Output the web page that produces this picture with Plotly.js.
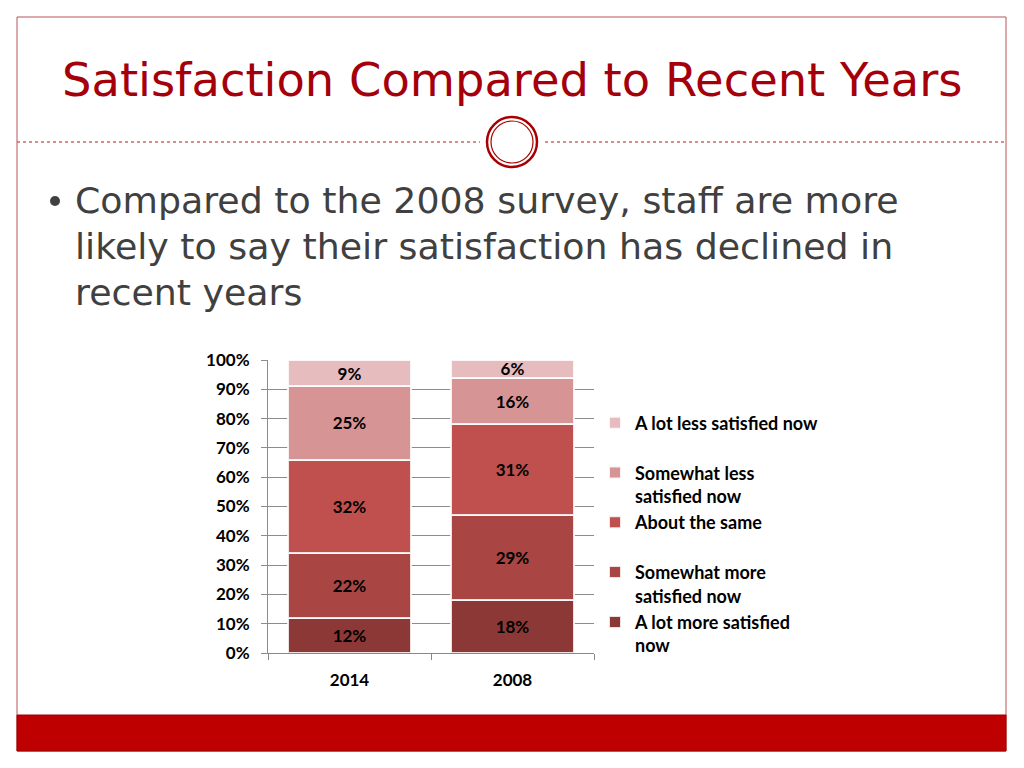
<!DOCTYPE html>
<html>
<head>
<meta charset="utf-8">
<script src="https://cdn.plot.ly/plotly-3.0.1.min.js"></script>
<style>
  html, body { margin: 0; padding: 0; background: #ffffff; }
  #chart { width: 1024px; height: 768px; }
</style>
</head>
<body>
<div id="chart"></div>
<script>
// ---- Data ----
const categories = ['2014', '2008'];
const seriesNames = [
  'A lot more satisfied<br>now',
  'Somewhat more<br>satisfied now',
  'About the same<br>&nbsp;',
  'Somewhat less<br>satisfied now',
  'A lot less satisfied now<br>&nbsp;'
];
const aLotMore      = [12, 18];
const somewhatMore  = [22, 29];
const aboutSame     = [32, 31];
const somewhatLess  = [25, 16];
const aLotLess      = [9, 6];
const seriesValues = [aLotMore, somewhatMore, aboutSame, somewhatLess, aLotLess];
const seriesColors = ['#8C3836', '#A94543', '#C0504D', '#D69594', '#E6BCBF'];
const yTickVals = [0, 10, 20, 30, 40, 50, 60, 70, 80, 90, 100];

const titleText = 'Satisfaction Compared to Recent Years';
const bulletLines = [
  'Compared to the 2008 survey, staff are more',
  'likely to say their satisfaction has declined in',
  'recent years'
];

// ---- Layout helpers (pixel -> paper) ----
const L = 268, R = 594, T = 360, B = 653;
const W = R - L, H = B - T;
const xp = px => (px - L) / W;
const yp = py => (B - py) / H;

const chartFont = 'Lato, "Liberation Sans", sans-serif';
const slideFont = '"DejaVu Sans", sans-serif';

const traces = seriesValues.map((vals, i) => ({
  type: 'bar',
  name: seriesNames[i],
  x: categories,
  y: vals,
  legendgroup: 'g' + i,
  legendrank: 10 - i,
  marker: { color: seriesColors[i], line: { color: 'rgba(255,255,255,0.85)', width: 2 } },
  texttemplate: '%{y}%',
  textposition: 'inside',
  insidetextanchor: 'middle',
  textangle: 0,
  constraintext: 'none',
  textfont: { family: chartFont, size: 17, color: '#000000', weight: 'bold' },
  hoverinfo: 'skip'
}));

const shapes = [
  // slide frame
  { type: 'rect', xref: 'paper', yref: 'paper', x0: xp(17), x1: xp(1006), y0: yp(751), y1: yp(17),
    line: { color: '#B85457', width: 1 }, fillcolor: 'rgba(0,0,0,0)', layer: 'below' },
  // bottom red band
  { type: 'rect', xref: 'paper', yref: 'paper', x0: xp(17), x1: xp(1006), y0: yp(751), y1: yp(715),
    line: { color: '#A00000', width: 1 }, fillcolor: '#BE0000', layer: 'below' },
  // dotted divider left
  { type: 'line', xref: 'paper', yref: 'paper', x0: xp(17), x1: xp(480), y0: yp(142), y1: yp(142),
    line: { color: '#C86A6A', width: 1.5, dash: 'dot' } },
  // dotted divider right
  { type: 'line', xref: 'paper', yref: 'paper', x0: xp(545), x1: xp(1006), y0: yp(142), y1: yp(142),
    line: { color: '#C86A6A', width: 1.5, dash: 'dot' } },
  // circle ornament outer
  { type: 'circle', xref: 'paper', yref: 'paper', x0: xp(487), x1: xp(537), y0: yp(167), y1: yp(117),
    line: { color: '#A80000', width: 2.5 }, fillcolor: '#ffffff' },
  // circle ornament inner
  { type: 'circle', xref: 'paper', yref: 'paper', x0: xp(491), x1: xp(533), y0: yp(163), y1: yp(121),
    line: { color: '#A80000', width: 1.2 }, fillcolor: 'rgba(0,0,0,0)' },
  // bullet dot
  { type: 'circle', xref: 'paper', yref: 'paper', x0: xp(50), x1: xp(60), y0: yp(206), y1: yp(196),
    line: { width: 0 }, fillcolor: '#404040' }
];

const annotations = [
  { xref: 'paper', yref: 'paper', x: xp(512), y: yp(80), xanchor: 'center', yanchor: 'middle',
    text: titleText, showarrow: false,
    font: { family: slideFont, size: 46.4, color: '#A5000A' } }
];
const lineY = [201, 246, 292];
bulletLines.forEach((t, i) => {
  annotations.push({
    xref: 'paper', yref: 'paper', x: xp(73), y: yp(lineY[i]), xanchor: 'left', yanchor: 'middle',
    text: t, showarrow: false,
    font: { family: slideFont, size: 36.3, color: '#404040' }
  });
});

const layout = {
  width: 1024,
  height: 768,
  margin: { l: L, r: 1024 - R, t: T, b: 768 - B, pad: 0 },
  paper_bgcolor: '#ffffff',
  plot_bgcolor: '#ffffff',
  barmode: 'stack',
  bargap: 0.24,
  showlegend: true,
  legend: {
    x: xp(595), xanchor: 'left',
    y: yp(404.5), yanchor: 'top',
    traceorder: 'grouped',
    tracegroupgap: 0,
    valign: 'top',
    font: { family: chartFont, size: 18, color: '#000000', weight: 'bold' },
    bgcolor: 'rgba(0,0,0,0)'
  },
  xaxis: {
    type: 'category',
    showline: true, linecolor: '#888888', linewidth: 1,
    ticks: 'outside', tickson: 'boundaries', ticklen: 6, tickcolor: '#888888',
    tickfont: { family: chartFont, size: 17, color: '#000000', weight: 'bold' },
    ticklabelstandoff: 12,
    showgrid: false, fixedrange: true
  },
  yaxis: {
    range: [0, 100],
    tickvals: yTickVals,
    ticktext: yTickVals.map(v => v + '%'),
    showgrid: true, gridcolor: '#8C8C8C', gridwidth: 1,
    showline: true, linecolor: '#8C8C8C', linewidth: 1,
    ticks: 'outside', ticklen: 6, tickcolor: '#8C8C8C',
    zeroline: false,
    tickfont: { family: chartFont, size: 17, color: '#000000', weight: 'bold' },
    ticklabelstandoff: 8,
    fixedrange: true
  },
  shapes: shapes,
  annotations: annotations
};

Plotly.newPlot('chart', traces, layout, { displayModeBar: false, staticPlot: true });
</script>
</body>
</html>
